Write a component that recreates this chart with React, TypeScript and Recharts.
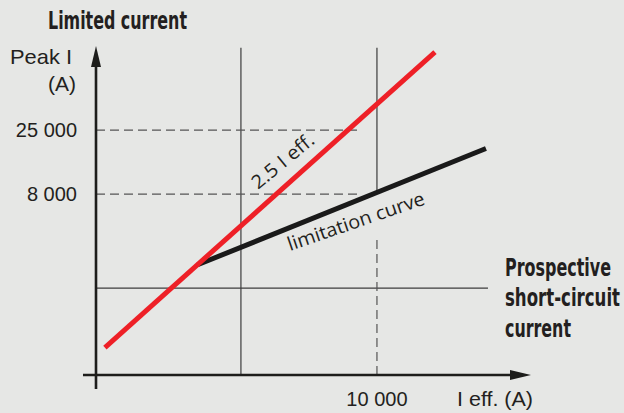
import React from 'react';
import { LineChart, Line, XAxis, YAxis, ReferenceLine } from 'recharts';

// log–log axes: prospective (effective) current vs peak current, both in A
const xDomain = [86, 135700];
const yDomain = [319, 111600];
const xTicks = [10000];
const yTicks = [8000, 25000];

// 2.5 I eff. (no limitation)
const idealCurrent = [100, 26700];
const idealPeak = [520, 100000];

// limitation curve
const limitedCurrent = [480, 63300];
const limitedPeak = [2270, 18000];

const idealData = idealCurrent.map((current, i) => ({ current, peak: idealPeak[i] }));
const limitedData = limitedCurrent.map((current, i) => ({ current, peak: limitedPeak[i] }));

const INK = '#231f20';
const GRID = '#3c3c3c';
const DIN = '"Liberation Sans", Arial, sans-serif';
const DIN_BOLD = '"Liberation Sans Narrow", "DejaVu Sans Condensed", sans-serif';
const HUMANIST = '"Open Sans", "Noto Sans", sans-serif';

const fmt = (v: number) => v.toLocaleString('en-US').replace(/,/g, ' ');

const YTick = ({ x, y, payload }: any) => (
  <text x={x} y={y + 7} textAnchor="end" fontFamily={DIN} fontSize={20} fill={INK}>
    {fmt(payload.value)}
  </text>
);

const XTick = ({ x, y, payload }: any) => (
  <text x={x} y={y + 31} textAnchor="middle" fontFamily={DIN} fontSize={20} fill={INK}>
    {fmt(payload.value)}
  </text>
);

// axis line with a filled arrow head at the second point
const Arrow = (p: any) => {
  const { x1, y1, x2, y2 } = p;
  const len = Math.hypot(x2 - x1, y2 - y1);
  const ux = (x2 - x1) / len;
  const uy = (y2 - y1) / len;
  const head = 21;
  const half = 5;
  const bx = x2 - ux * head;
  const by = y2 - uy * head;
  return (
    <g>
      <line x1={x1} y1={y1} x2={bx} y2={by} stroke="#1d1d1b" strokeWidth={2.6} />
      <polygon
        points={`${x2},${y2} ${bx - uy * half},${by + ux * half} ${bx + uy * half},${by - ux * half}`}
        fill="#1d1d1b"
      />
    </g>
  );
};

// condensed bold block, squeezed horizontally so it stays inside the right edge
const SQUEEZE = 0.8;
const prospectiveLines = ['Prospective', 'short-circuit', 'current'];
const prospectiveWidths = [106, 115, 66];

const App: React.FC = () => {
  const grid = { stroke: GRID, strokeWidth: 1.2, ifOverflow: 'visible' as const };
  const dashed = { stroke: '#555', strokeWidth: 1.2, strokeDasharray: '9 5', ifOverflow: 'visible' as const };

  return (
    <div style={{ position: 'absolute', left: 0, top: 0, width: 624, height: 413, background: '#e6e7e5' }}>
      <LineChart width={624} height={413} margin={{ top: 46, right: 93, left: 0, bottom: 0 }}>
        <XAxis
          type="number"
          dataKey="current"
          scale="log"
          domain={xDomain}
          allowDataOverflow
          ticks={xTicks}
          height={38}
          axisLine={false}
          tickLine={false}
          tickSize={0}
          tickMargin={0}
          tick={<XTick />}
        />
        <YAxis
          type="number"
          dataKey="peak"
          scale="log"
          domain={yDomain}
          allowDataOverflow
          ticks={yTicks}
          width={96}
          axisLine={false}
          tickLine={false}
          tickSize={0}
          tickMargin={19}
          tick={<YTick />}
        />

        <ReferenceLine segment={[{ x: 1000, y: 319 }, { x: 1000, y: 108000 }]} {...grid} />
        <ReferenceLine segment={[{ x: 10000, y: 8000 }, { x: 10000, y: 108000 }]} {...grid} />
        <ReferenceLine segment={[{ x: 86, y: 1500 }, { x: 65500, y: 1500 }]} {...grid} />
        <ReferenceLine segment={[{ x: 10000, y: 319 }, { x: 10000, y: 3650 }]} {...dashed} />
        <ReferenceLine segment={[{ x: 86, y: 25000 }, { x: 7200, y: 25000 }]} {...dashed} />
        <ReferenceLine segment={[{ x: 86, y: 8000 }, { x: 7200, y: 8000 }]} {...dashed} />

        <ReferenceLine segment={[{ x: 69, y: 319 }, { x: 135700, y: 319 }]} ifOverflow="visible" shape={Arrow} />
        <ReferenceLine segment={[{ x: 86, y: 249 }, { x: 86, y: 111600 }]} ifOverflow="visible" shape={Arrow} />

        <Line
          data={limitedData}
          dataKey="peak"
          type="linear"
          stroke="#1a1a1a"
          strokeWidth={5}
          dot={false}
          isAnimationActive={false}
        />
        <Line
          data={idealData}
          dataKey="peak"
          type="linear"
          stroke="#ee2027"
          strokeWidth={5}
          dot={false}
          isAnimationActive={false}
        />
      </LineChart>

      <svg width={624} height={413} style={{ position: 'absolute', left: 0, top: 0, pointerEvents: 'none' }}>
        <text x={48} y={29} fontFamily={DIN_BOLD} fontWeight="bold" fontSize={25} fill={INK} textLength={139} lengthAdjust="spacingAndGlyphs">
          Limited current
        </text>
        <text x={10} y={64} fontFamily={DIN} fontSize={21} fill={INK} textLength={62} lengthAdjust="spacingAndGlyphs">
          Peak I
        </text>
        <text x={48} y={91} fontFamily={DIN} fontSize={21} fill={INK} textLength={28} lengthAdjust="spacingAndGlyphs">
          (A)
        </text>
        <text x={457} y={406} fontFamily={DIN} fontSize={20} fill={INK} textLength={76} lengthAdjust="spacingAndGlyphs">
          I eff. (A)
        </text>
        <g
          transform={`translate(505 0) scale(${SQUEEZE} 1)`}
          fontFamily={DIN_BOLD}
          fontWeight="bold"
          fontSize={24}
          fill={INK}
        >
          {prospectiveLines.map((line, i) => (
            <text
              key={line}
              x={0}
              y={276 + i * 30.5}
              textLength={prospectiveWidths[i] / SQUEEZE}
              lengthAdjust="spacingAndGlyphs"
            >
              {line}
            </text>
          ))}
        </g>
        <text
          x={258}
          y={190}
          transform="rotate(-39.5 258 190)"
          fontFamily={HUMANIST}
          fontSize={19}
          fill={INK}
          textLength={75}
          lengthAdjust="spacingAndGlyphs"
        >
          2.5 I eff.
        </text>
        <text
          x={290}
          y={251}
          transform="rotate(-19 290 251)"
          fontFamily={HUMANIST}
          fontSize={19}
          fill={INK}
          textLength={144}
          lengthAdjust="spacingAndGlyphs"
        >
          limitation curve
        </text>
      </svg>
    </div>
  );
};

export default App;
